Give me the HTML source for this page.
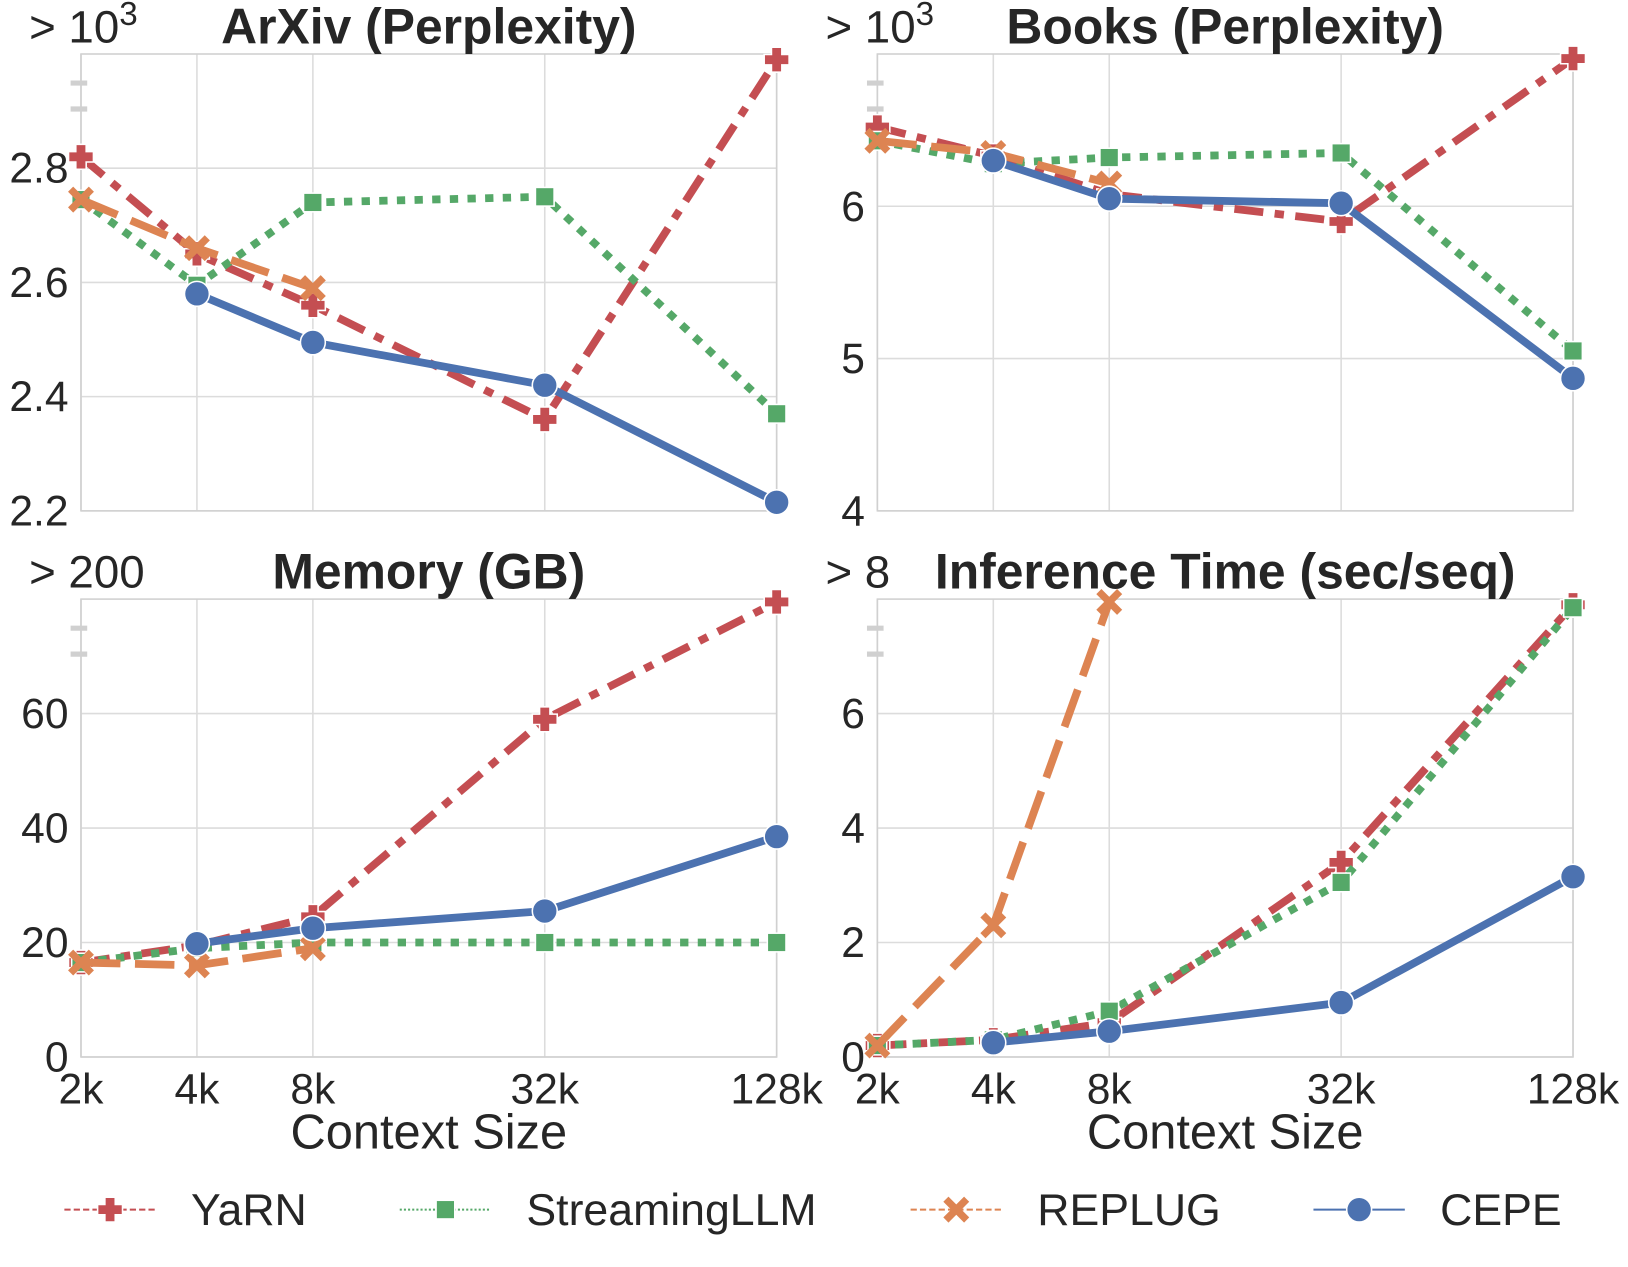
<!DOCTYPE html>
<html><head><meta charset="utf-8"><style>
body{margin:0;background:#fff;}
svg text{font-family:"Liberation Sans",sans-serif;fill:#262626;}
</style></head><body>
<svg id="c" width="1628" height="1262" xmlns="http://www.w3.org/2000/svg"><g id="root" transform="scale(1.0383)"></g></svg>
<script>
const xCats=['2k','4k','8k','32k','128k'];
const xLog=[1,2,3,5,7];
const seriesNames=['YaRN','StreamingLLM','REPLUG','CEPE'];
const arxivYarn=[2.82,2.65,2.56,2.36,2.99];
const arxivStream=[2.745,2.595,2.74,2.75,2.37];
const arxivReplug=[2.745,2.66,2.59,null,null];
const arxivCepe=[null,2.58,2.495,2.42,2.215];
const booksYarn=[6.52,6.33,6.08,5.9,6.97];
const booksStream=[6.43,6.28,6.32,6.35,5.05];
const booksReplug=[6.43,6.35,6.15,null,null];
const booksCepe=[null,6.3,6.05,6.02,4.87];
const memYarn=[16.5,19.5,24.5,59,79.5];
const memStream=[16.5,19,20,20,20];
const memReplug=[16.5,16,19,null,null];
const memCepe=[null,19.8,22.5,25.5,38.5];
const timeYarn=[0.2,0.3,0.6,3.4,7.9];
const timeStream=[0.2,0.3,0.8,3.05,7.85];
const timeReplug=[0.2,2.3,7.95,null,null];
const timeCepe=[null,0.25,0.45,0.95,3.15];
const arxivTicks=[2.2,2.4,2.6,2.8];
const booksTicks=[4,5,6];
const memTicks=[0,20,40,60];
const timeTicks=[0,2,4,6];

const NS='http://www.w3.org/2000/svg';
const svg=document.getElementById('root');
function mk(t,a,p){const e=document.createElementNS(NS,t);for(const k in a)e.setAttribute(k,a[k]);(p||svg).appendChild(e);return e;}
const colors=['#c44e52','#55a868','#dd8452','#4c72b0'];
const dashes=['28,11,9,11','8,9','38,14',''];
function marker(g,i,x,y){
  const c=colors[i];
  if(i===0){const s=12,w=5;mk('path',{d:`M${x-w},${y-s}h${2*w}v${s-w}h${s-w}v${2*w}h-${s-w}v${s-w}h-${2*w}v-${s-w}h-${s-w}v-${2*w}h${s-w}z`,fill:c,stroke:'#fff','stroke-width':1.5},g);}
  else if(i===1){mk('rect',{x:x-9,y:y-9,width:18,height:18,fill:c,stroke:'#fff','stroke-width':1.5},g);}
  else if(i===2){mk('path',{d:`M${x-10},${y-10}L${x+10},${y+10}M${x+10},${y-10}L${x-10},${y+10}`,stroke:c,'stroke-width':7},g);}
  else{mk('circle',{cx:x,cy:y,r:12,fill:c,stroke:'#fff','stroke-width':1.5},g);}
}
function panel(name,x0,x1,yTop,yBot,ymin,ymax,ticks,fmt,data,title,topLbl,titleX,showX){
  const g=mk('g',{});
  const sx=v=>x0+(v-1)/6*(x1-x0);
  const sy=v=>yBot-(v-ymin)/(ymax-ymin)*(yBot-yTop);
  xLog.forEach((l,i)=>{mk('line',{x1:sx(l),x2:sx(l),y1:yTop,y2:yBot,stroke:'#dcdcdc','stroke-width':1.5},g);
    if(showX){const t=mk('text',{x:sx(l),y:yBot+45,'text-anchor':'middle','font-size':41},g);t.textContent=xCats[i];}});
  ticks.forEach(v=>{mk('line',{x1:x0,x2:x1,y1:sy(v),y2:sy(v),stroke:'#dcdcdc','stroke-width':1.5},g);
    const t=mk('text',{x:x0-12,y:sy(v)+14,'text-anchor':'end','font-size':41},g);t.textContent=fmt(v);});
  mk('rect',{x:x0,y:yTop,width:x1-x0,height:yBot-yTop,fill:'none',stroke:'#d0d0d0','stroke-width':1.5},g);
  [yTop+28,yTop+53].forEach(y=>mk('line',{x1:x0-10,x2:x0+6,y1:y,y2:y,stroke:'#d0d0d0','stroke-width':5},g));
  const tl=mk('text',{x:x0-50,y:yTop-11,'font-size':44},g);tl.innerHTML=topLbl;
  const tt=mk('text',{x:titleX,y:yTop-10,'text-anchor':'middle','font-size':48,'font-weight':'bold'},g);tt.textContent=title;
  data.forEach((arr,i)=>{
    const pts=[];arr.forEach((v,j)=>{if(v!==null)pts.push([sx(xLog[j]),sy(v)]);});
    const sg=mk('g',{},g);
    const p=mk('polyline',{points:pts.map(p=>p.join(',')).join(' '),fill:'none',stroke:colors[i],'stroke-width':7.5},sg);
    if(dashes[i])p.setAttribute('stroke-dasharray',dashes[i]);
    pts.forEach(q=>marker(sg,i,q[0],q[1]));
  });
  if(showX){const t=mk('text',{x:(x0+x1)/2,y:yBot+88,'text-anchor':'middle','font-size':47},g);t.textContent='Context Size';}
}
const f1=v=>v.toFixed(1),f0=v=>String(v);
const exp='&gt; 10<tspan dy="-17" font-size="32">3</tspan>';
panel('arxiv-panel',78,748,52,492,2.2,3.0,arxivTicks,f1,[arxivYarn,arxivStream,arxivReplug,arxivCepe],'ArXiv (Perplexity)',exp,413,false);
panel('books-panel',845,1515,52,492,4,7,booksTicks,f0,[booksYarn,booksStream,booksReplug,booksCepe],'Books (Perplexity)',exp,1180,false);
panel('memory-panel',78,748,577,1018,0,80,memTicks,f0,[memYarn,memStream,memReplug,memCepe],'Memory (GB)','&gt; 200',413,true);
panel('time-panel',845,1515,577,1018,0,8,timeTicks,f0,[timeYarn,timeStream,timeReplug,timeCepe],'Inference Time (sec/seq)','&gt; 8',1180,true);
const lg=mk('g',{});
const lx=[62,385,877,1265];
seriesNames.forEach((n,i)=>{
  const eg=mk('g',{},lg);
  const l=mk('line',{x1:lx[i],x2:lx[i]+88,y1:1165,y2:1165,stroke:colors[i],'stroke-width':2},eg);
  if(dashes[i])l.setAttribute('stroke-dasharray',i===1?'2,2':'6,3');
  marker(eg,i,lx[i]+44,1165);
  const t=mk('text',{x:lx[i]+122,y:1180,'font-size':43},eg);t.textContent=n;
});
</script></body></html>
